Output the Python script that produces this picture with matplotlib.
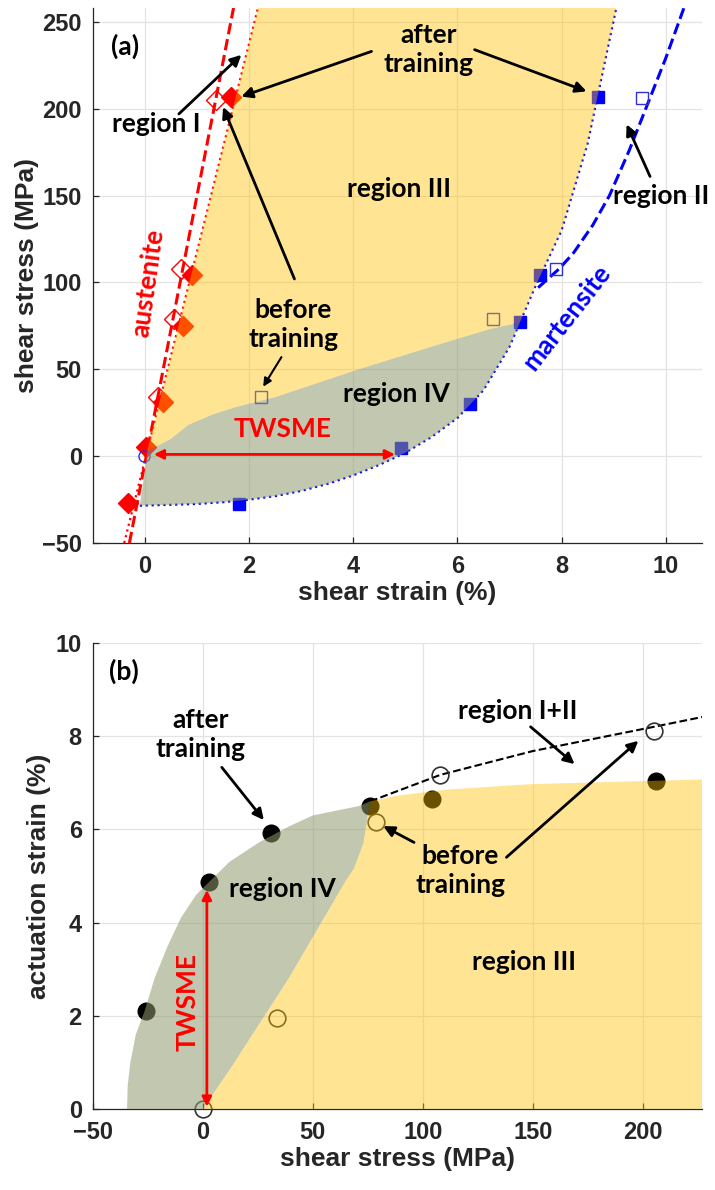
import numpy as np
import matplotlib.pyplot as plt

# ---- (a) shear stress vs shear strain ----
aus_after_strain = [-0.33, 0.02, 0.35, 0.72, 0.90, 1.65]
aus_after_stress = [-27, 5, 31, 75, 104, 207]
aus_before_strain = [0.25, 0.56, 0.69, 1.37]
aus_before_stress = [34, 79, 108, 205]
mart_after_strain = [1.81, 4.92, 6.25, 7.2, 7.58, 8.7]
mart_after_stress = [-27.5, 4.5, 30, 77, 104, 207]
mart_before_strain = [2.23, 6.69, 7.9, 9.54]
mart_before_stress = [34, 79, 108, 206]
origin_strain = [-0.02]
origin_stress = [0]

# fitted lines
aus_after_fit_strain = [-0.40, 2.17]
aus_after_fit_stress = [-50, 258]
aus_before_fit_strain = [-0.30, 1.70]
aus_before_fit_stress = [-50, 258]
mart_after_fit_strain = [-0.1, 0.5, 1, 1.5, 2, 2.5, 3, 3.5, 4, 4.5, 5, 5.5, 6, 6.5, 7, 7.5, 8, 8.5, 9.05]
mart_after_fit_stress = [-28.5, -28, -27.5, -26.5, -25, -23, -20, -16, -11, -5, 2, 11, 22, 38, 63, 98, 130, 180, 258]
mart_before_fit_strain = [7.55, 7.96, 8.23, 8.6, 8.92, 9.3, 9.67, 10.0, 10.35]
mart_before_fit_stress = [97, 108, 117, 133, 150, 176, 204, 229, 258]

# upper edge of region IV in (a)
r4a_strain = [0.05, 0.5, 0.83, 1.3, 1.71, 2.5, 4.1, 5.5, 6.6, 7.2]
r4a_stress = [3, 10, 18, 24, 28, 34, 50, 63, 73, 77]

# ---- (b) actuation strain vs shear stress ----
act_after_stress = [-26, 2.7, 31, 76, 104, 206]
act_after_strain = [2.1, 4.86, 5.93, 6.5, 6.65, 7.03]
act_before_stress = [0, 33.6, 78.6, 108, 205]
act_before_strain = [0, 1.96, 6.15, 7.17, 8.12]
fit_b_stress = [76, 108, 150, 205, 228]
fit_b_strain = [6.6, 7.17, 7.68, 8.2, 8.42]

r4b_edge_stress = [-34.5, -34.2, -33, -30.5, -26.5, -22, -16, -10, -3, 3, 12, 25.5, 39, 50, 71, 76]
r4b_edge_strain = [0, 0.5, 1.0, 1.6, 2.1, 2.8, 3.5, 4.1, 4.6, 4.88, 5.3, 5.72, 6.06, 6.3, 6.5, 6.6]
r34_stress = [0, 13, 39, 65, 68.6, 73, 76]
r34_strain = [0, 0.9, 2.8, 4.9, 5.15, 5.7, 6.6]
r3b_top_stress = [76, 88, 110, 149, 227]
r3b_top_strain = [6.6, 6.72, 6.85, 6.97, 7.07]

YEL = '#FFC000'
GRN = '#919B6D'
TXT = '#262626'
ann = dict(family='Lato', fontweight='bold', fontsize=19, color='k')
arw = dict(arrowstyle='-|>', lw=2, color='k', mutation_scale=16, shrinkA=0, shrinkB=0)

plt.rcParams['font.family'] = ['Liberation Sans', 'DejaVu Sans']
plt.rcParams['font.weight'] = 'bold'
plt.rcParams['axes.labelweight'] = 'bold'

fig = plt.figure(figsize=(7.15, 11.9), dpi=100)
ax1 = fig.add_axes([0.130, 0.5437, 0.852, 0.4496])
ax2 = fig.add_axes([0.130, 0.0681, 0.852, 0.3916])

for ax in (ax1, ax2):
    ax.spines['top'].set_visible(False)
    ax.spines['right'].set_visible(False)
    for s in ('left', 'bottom'):
        ax.spines[s].set_color(TXT)
        ax.spines[s].set_linewidth(0.9)
    ax.tick_params(direction='in', length=4, width=0.9, color=TXT,
                   labelsize=17, labelcolor=TXT)
    ax.tick_params(axis='x', pad=9)
    ax.tick_params(axis='y', pad=8)
    ax.grid(True, color='#e3e3e3', lw=0.9)
    ax.set_axisbelow(True)

# ---------------- panel (a) ----------------
mx = np.array(mart_after_fit_strain)
my = np.array(mart_after_fit_stress)
low = my < 77
x77 = np.interp(77, my, mx)
ax_s = np.array(aus_after_fit_strain)
ax_t = np.array(aus_after_fit_stress)
x3 = np.interp(3, ax_t, ax_s)

r4_x = list(r4a_strain) + [x77] + list(mx[low][::-1])
r4_y = list(r4a_stress) + [77] + list(my[low][::-1])
ax1.fill(r4_x, r4_y, color=GRN, alpha=0.55, lw=0, zorder=5)

r3_x = [x3, ax_s[1], mx[-1]] + list(mx[~low][::-1]) + [x77] + list(r4a_strain[::-1])
r3_y = [3, ax_t[1], my[-1]] + list(my[~low][::-1]) + [77] + list(r4a_stress[::-1])
ax1.fill(r3_x, r3_y, color=YEL, alpha=0.42, lw=0, zorder=5)

ax1.plot(aus_after_fit_strain, aus_after_fit_stress, ':', color='r', lw=1.6, zorder=3)
ax1.plot(aus_before_fit_strain, aus_before_fit_stress, '--', color='r', lw=2.2, zorder=3)
ax1.plot(mart_after_fit_strain, mart_after_fit_stress, ':', color='b', lw=1.6, zorder=3)
ax1.plot(mart_before_fit_strain, mart_before_fit_stress, '--', color='b', lw=2.2, zorder=3)

ax1.plot(aus_after_strain, aus_after_stress, 'D', color='r', ms=10, zorder=4)
ax1.plot(aus_before_strain, aus_before_stress, 'D', mfc='none', mec='r', mew=1, ms=10, zorder=4)
ax1.plot(mart_after_strain, mart_after_stress, 's', color='b', ms=9, zorder=4)
ax1.plot(mart_before_strain, mart_before_stress, 's', mfc='none', mec='#3030e0', mew=1, ms=9, zorder=4)
ax1.plot(origin_strain, origin_stress, 'o', mfc='none', mec='#3030e0', mew=1, ms=8, zorder=4)

ax1.set_xlim(-1, 10.7)
ax1.set_ylim(-50, 258)
ax1.set_xticks([0, 2, 4, 6, 8, 10])
ax1.set_yticks([-50, 0, 50, 100, 150, 200, 250])
ax1.set_xlabel('shear strain (%)', fontsize=19, color=TXT, labelpad=2)
ax1.set_ylabel('shear stress (MPa)', fontsize=19, color=TXT, labelpad=2)

ax1.text(-0.65, 236, '(a)', ha='left', va='center', zorder=10, **ann)
ax1.text(0.21, 191, 'region I', ha='center', va='center', zorder=10, **ann)
ax1.annotate('', xy=(1.85, 231), xytext=(0.65, 197), arrowprops=arw, zorder=10)
ax1.text(5.44, 234, 'after\ntraining', ha='center', va='center', linespacing=1.25, zorder=10, **ann)
ax1.annotate('', xy=(1.85, 207), xytext=(4.35, 233), arrowprops=arw, zorder=10)
ax1.annotate('', xy=(8.48, 210), xytext=(6.33, 234), arrowprops=arw, zorder=10)
ax1.text(4.87, 154, 'region III', ha='center', va='center', zorder=10, **ann)
ax1.text(9.92, 150, 'region II', ha='center', va='center', zorder=10, **ann)
ax1.annotate('', xy=(9.25, 191), xytext=(9.7, 161), arrowprops=arw, zorder=10)
ax1.text(2.85, 76, 'before\ntraining', ha='center', va='center', linespacing=1.25, zorder=10, **ann)
ax1.annotate('', xy=(1.5, 201), xytext=(2.87, 102), arrowprops=arw, zorder=10)
ax1.annotate('', xy=(2.27, 40), xytext=(2.62, 57), arrowprops=dict(arw, lw=1.5, mutation_scale=12), zorder=10)
ax1.text(4.83, 36, 'region IV', ha='center', va='center', zorder=10, **ann)
ax1.annotate('', xy=(0.17, 1), xytext=(4.8, 1),
             arrowprops=dict(arrowstyle='<|-|>', lw=2, color='r', mutation_scale=14, shrinkA=0, shrinkB=0), zorder=10)
ax1.text(2.64, 9, 'TWSME', ha='center', va='bottom', zorder=10, **dict(ann, color='r'))
ax1.text(0.06, 100, 'austenite', ha='center', va='center', rotation=82, rotation_mode='anchor',
         zorder=10, **dict(ann, color='r'))
ax1.text(8.1, 80, 'martensite', ha='center', va='center', rotation=52, rotation_mode='anchor',
         zorder=10, **dict(ann, color='b'))

# ---------------- panel (b) ----------------
g_x = list(r4b_edge_stress) + r34_stress[::-1]
g_y = list(r4b_edge_strain) + r34_strain[::-1]
ax2.fill(g_x, g_y, color=GRN, alpha=0.55, lw=0, zorder=5)
y_x = r34_stress + r3b_top_stress[1:] + [r3b_top_stress[-1]]
y_y = r34_strain + r3b_top_strain[1:] + [0]
ax2.fill(y_x, y_y, color=YEL, alpha=0.42, lw=0, zorder=5)

ax2.plot(fit_b_stress, fit_b_strain, '--', color='k', lw=1.5, zorder=3)
ax2.plot(act_after_stress, act_after_strain, 'o', color='k', ms=12, zorder=4)
ax2.plot(act_before_stress, act_before_strain, 'o', mfc='none', mec='#333333', mew=1.2, ms=12,
         zorder=4, clip_on=False)

ax2.set_xlim(-50, 227)
ax2.set_ylim(0, 10)
ax2.set_xticks([-50, 0, 50, 100, 150, 200])
ax2.set_yticks([0, 2, 4, 6, 8, 10])
ax2.set_xlabel('shear stress (MPa)', fontsize=19, color=TXT, labelpad=2)
ax2.set_ylabel('actuation strain (%)', fontsize=19, color=TXT, labelpad=3)

ax2.text(-42.7, 9.4, '(b)', ha='left', va='center', zorder=10, **ann)
ax2.text(-1, 8.04, 'after\ntraining', ha='center', va='center', linespacing=1.25, zorder=10, **ann)
ax2.annotate('', xy=(27.7, 6.2), xytext=(8.6, 7.33), arrowprops=arw, zorder=10)
ax2.text(36, 4.72, 'region IV', ha='center', va='center', zorder=10, **ann)
ax2.text(143, 8.54, 'region I+II', ha='center', va='center', zorder=10, **ann)
ax2.annotate('', xy=(169, 7.4), xytext=(149, 8.2), arrowprops=arw, zorder=10)
ax2.text(117, 5.12, 'before\ntraining', ha='center', va='center', linespacing=1.25, zorder=10, **ann)
ax2.annotate('', xy=(82, 6.07), xytext=(96, 5.72), arrowprops=arw, zorder=10)
ax2.annotate('', xy=(198, 7.9), xytext=(138, 5.4), arrowprops=arw, zorder=10)
ax2.text(146, 3.16, 'region III', ha='center', va='center', zorder=10, **ann)
ax2.annotate('', xy=(1.8, 4.7), xytext=(1.8, 0.05),
             arrowprops=dict(arrowstyle='<|-|>', lw=2, color='r', mutation_scale=14, shrinkA=0, shrinkB=0), zorder=10)
ax2.text(-7, 2.3, 'TWSME', ha='center', va='center', rotation=90, zorder=10, **dict(ann, color='r'))

fig.savefig('out.png', dpi=100)
